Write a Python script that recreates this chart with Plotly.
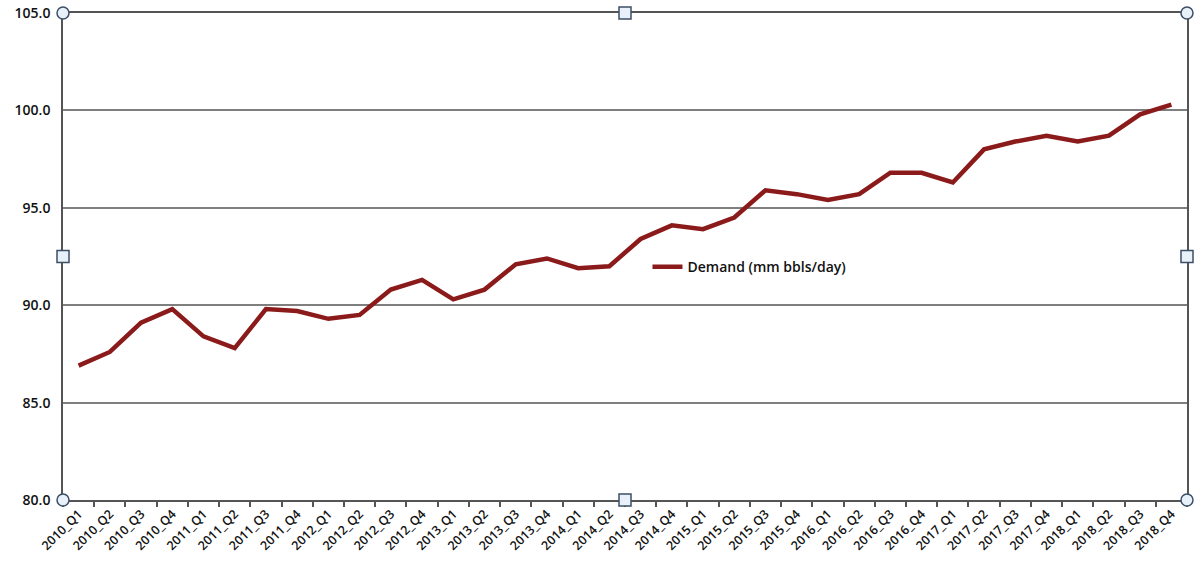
import plotly.graph_objects as go

# Quarterly oil demand, million barrels per day
quarters = [
    "2010_Q1", "2010_Q2", "2010_Q3", "2010_Q4",
    "2011_Q1", "2011_Q2", "2011_Q3", "2011_Q4",
    "2012_Q1", "2012_Q2", "2012_Q3", "2012_Q4",
    "2013_Q1", "2013_Q2", "2013_Q3", "2013_Q4",
    "2014_Q1", "2014_Q2", "2014_Q3", "2014_Q4",
    "2015_Q1", "2015_Q2", "2015_Q3", "2015_Q4",
    "2016_Q1", "2016_Q2", "2016_Q3", "2016_Q4",
    "2017_Q1", "2017_Q2", "2017_Q3", "2017_Q4",
    "2018_Q1", "2018_Q2", "2018_Q3", "2018_Q4",
]
demand = [
    86.9, 87.6, 89.1, 89.8,
    88.4, 87.8, 89.8, 89.7,
    89.3, 89.5, 90.8, 91.3,
    90.3, 90.8, 92.1, 92.4,
    91.9, 92.0, 93.4, 94.1,
    93.9, 94.5, 95.9, 95.7,
    95.4, 95.7, 96.8, 96.8,
    96.3, 98.0, 98.4, 98.7,
    98.4, 98.7, 99.8, 100.3,
]
y_ticks = [80, 85, 90, 95, 100, 105]

FONT = "Open Sans"
AXIS_COLOR = "#555555"

fig = go.Figure()
fig.add_trace(go.Scatter(
    x=quarters,
    y=demand,
    mode="lines",
    name="Demand (mm bbls/day)",
    line=dict(color="#8b1a1a", width=4.5),
))

fig.update_layout(
    width=1204,
    height=576,
    margin=dict(l=63, r=17, t=13, b=76),
    paper_bgcolor="white",
    plot_bgcolor="white",
    showlegend=True,
    legend=dict(
        x=0.52, y=0.478, xanchor="left", yanchor="middle",
        bgcolor="rgba(0,0,0,0)",
        font=dict(family=FONT, size=14, color="#111111", weight=600),
    ),
    xaxis=dict(
        type="category",
        range=[-0.5, len(quarters) - 0.5],
        automargin=False,
        showgrid=False,
        showline=True, mirror=True,
        linecolor=AXIS_COLOR, linewidth=1.5,
        ticks="outside", tickson="boundaries",
        ticklen=5, tickcolor=AXIS_COLOR, tickwidth=1.5,
        tickangle=-45,
        tickfont=dict(family=FONT, size=12.5, color="#111111", weight=600),
    ),
    yaxis=dict(
        range=[80, 105],
        automargin=False,
        tickvals=y_ticks,
        ticktext=[f"{v:.1f}" for v in y_ticks],
        showgrid=True, gridcolor="#7f7f7f", gridwidth=1.5,
        zeroline=False,
        showline=True, mirror=True,
        linecolor=AXIS_COLOR, linewidth=1.5,
        ticks="", ticklabelstandoff=8,
        tickfont=dict(family=FONT, size=14, color="#111111", weight=600),
    ),
)

# Chart-selection handles: circles on the corners, squares on the edge midpoints
handles = [
    ("circle", 0, 0), ("circle", 1, 0), ("circle", 0, 1), ("circle", 1, 1),
    ("rect", 0.5, 0), ("rect", 0.5, 1), ("rect", 0, 0.5), ("rect", 1, 0.5),
]
for kind, hx, hy in handles:
    fig.add_shape(
        type=kind, xref="paper", yref="paper",
        xsizemode="pixel", ysizemode="pixel",
        xanchor=hx, yanchor=hy,
        x0=-6, x1=6, y0=-6, y1=6,
        fillcolor="#e8f0fa", line=dict(color="#3d4f66", width=1.5),
    )

fig.write_html("out.html")
